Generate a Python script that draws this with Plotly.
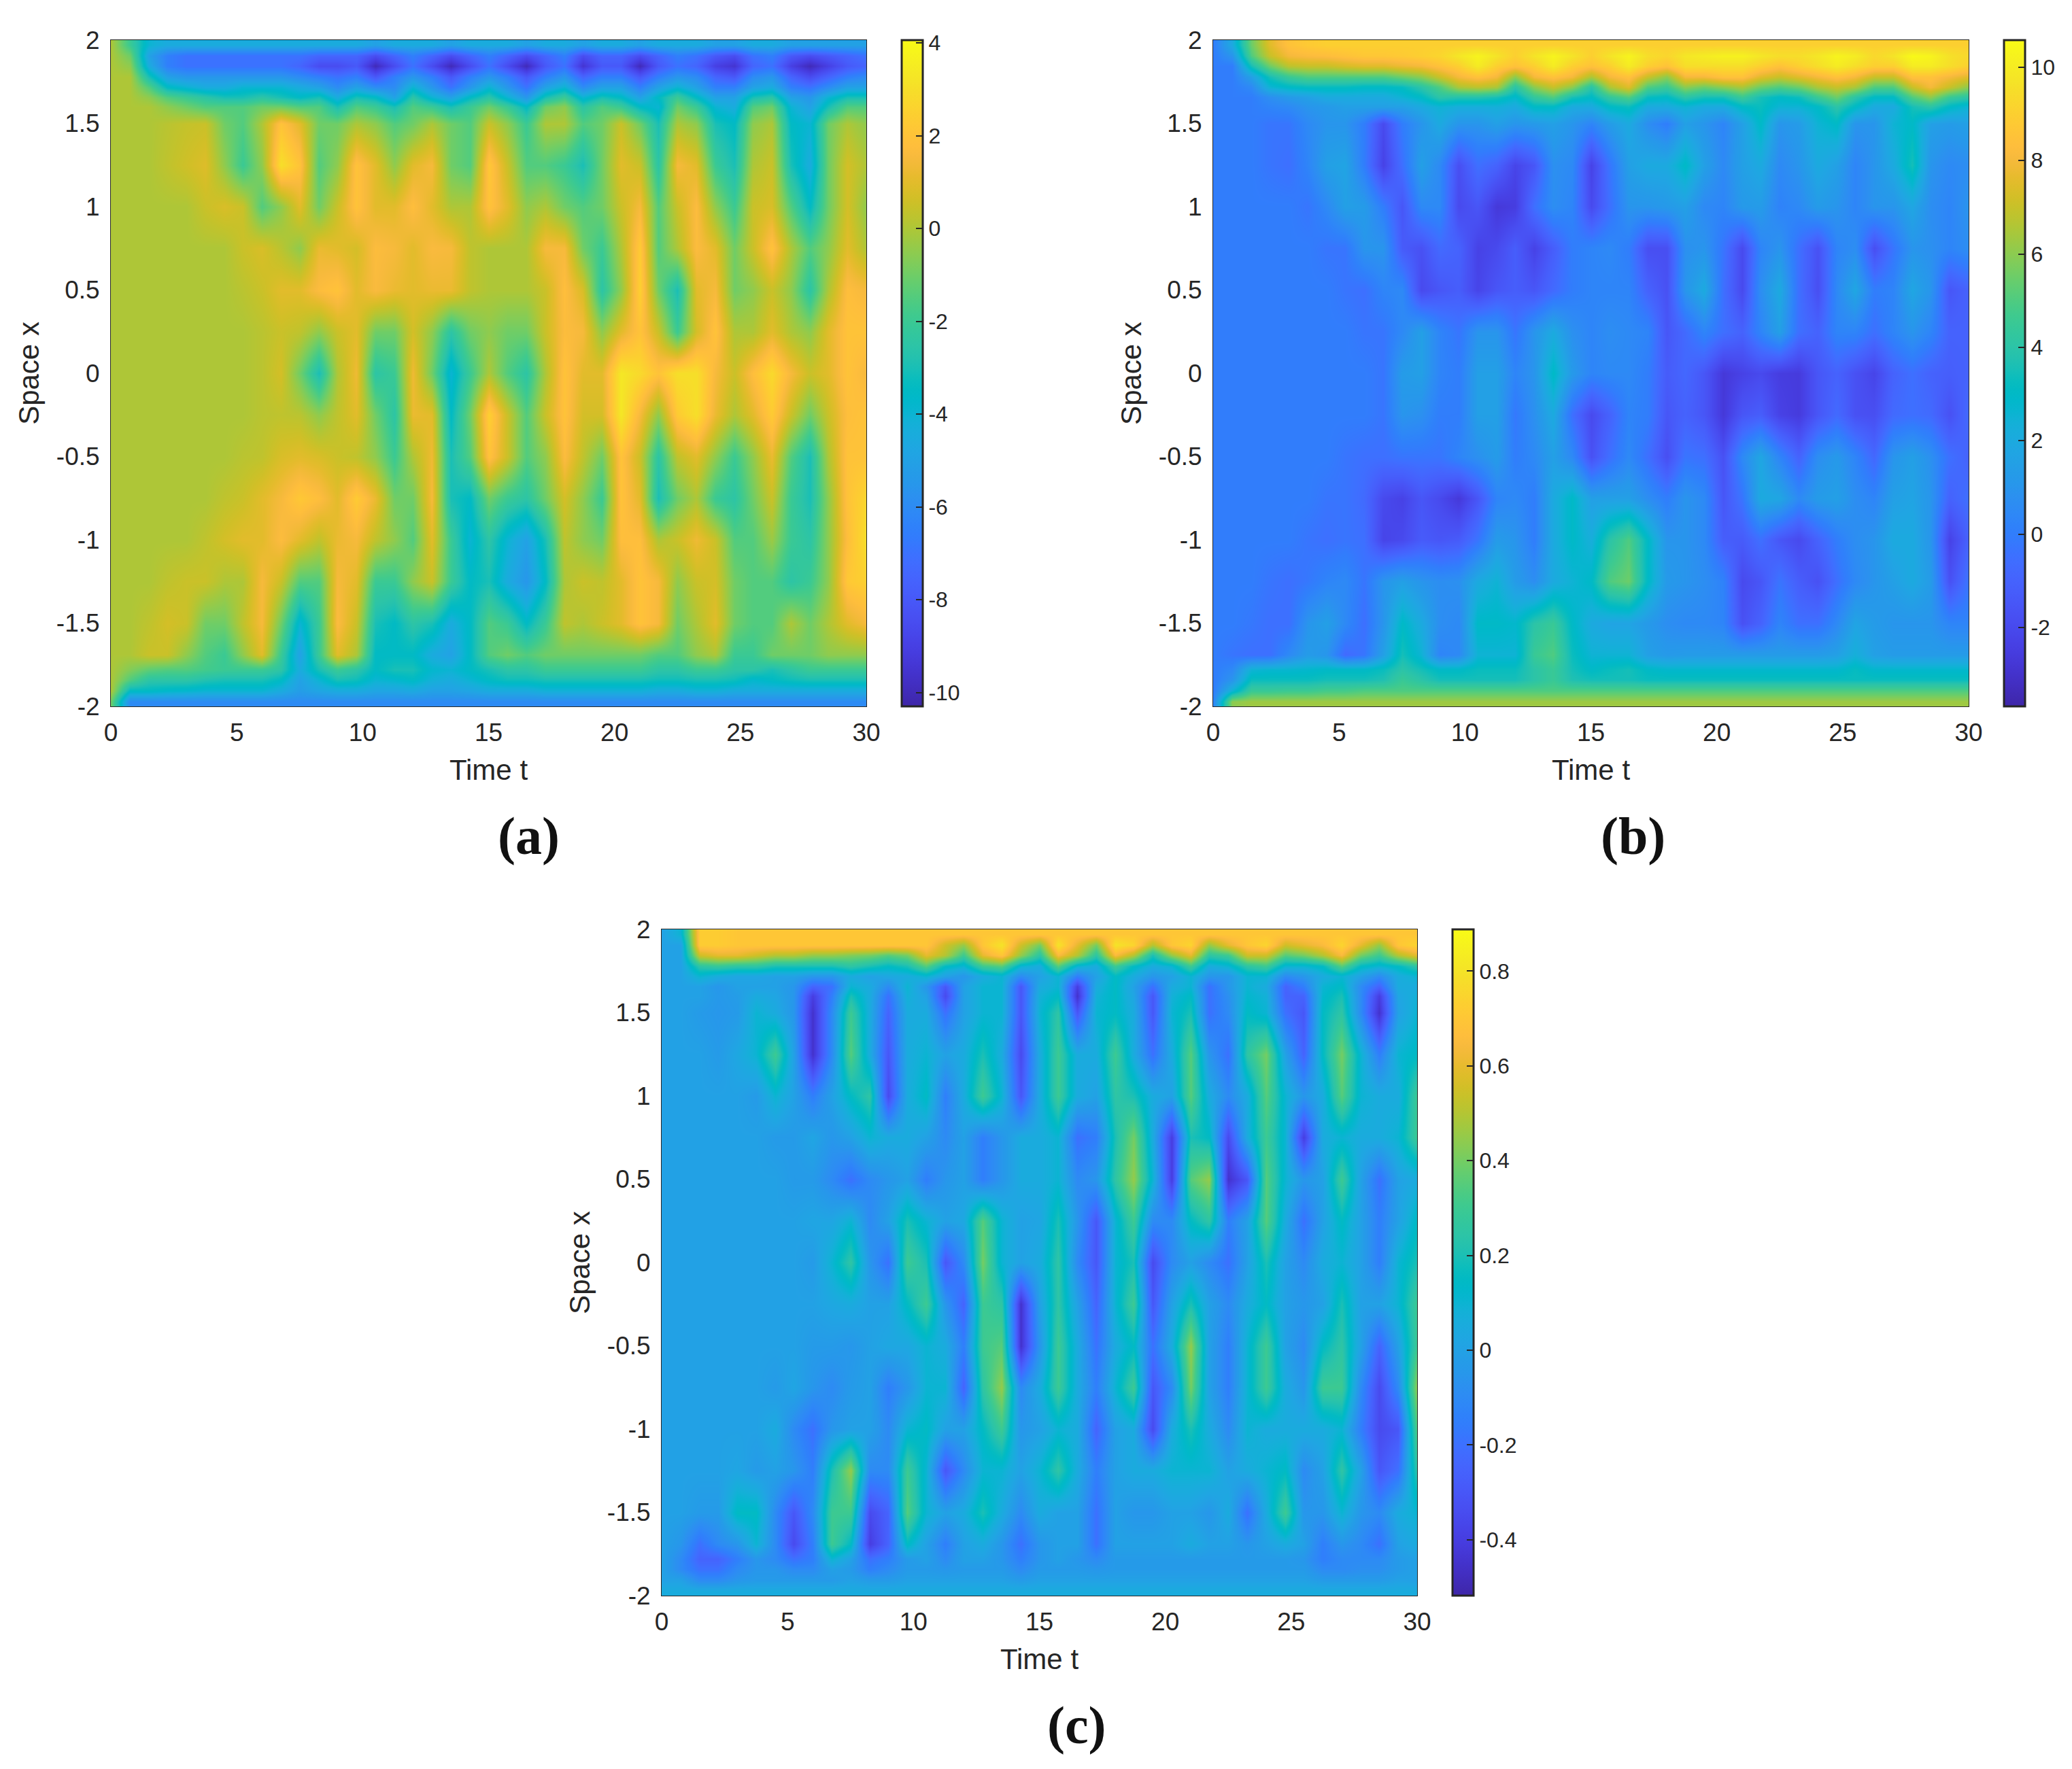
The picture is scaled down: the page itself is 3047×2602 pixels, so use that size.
import plotly.graph_objects as go

# time columns and space rows of the three panels
time_t = [0, .75, 1.5, 2.25, 3, 3.75, 4.5, 5.25, 6, 6.75,
          7.5, 8.25, 9, 9.75, 10.5, 11.25, 12, 12.75, 13.5, 14.25,
          15, 15.75, 16.5, 17.25, 18, 18.75, 19.5, 20.25, 21, 21.75,
          22.5, 23.25, 24, 24.75, 25.5, 26.25, 27, 27.75, 28.5, 29.25, 30]
space_x = [1.97, 1.906, 1.844, 1.78, 1.72, 1.656, 1.6, 1.5, 1.25, 1, .75, .5, .25, 0,
           -.25, -.5, -.75, -1, -1.25, -1.5, -1.69, -1.78, -1.84, -1.906, -1.97]

panel_a = [
    [0, -2, -4, -4.5, -4.5, -4.5, -4.5, -4.5, -4.5, -4.5,  -4.5, -4.5, -4.5, -4.5, -5, -4.5, -4.5, -4.5, -5, -4.5,  -4.5, -4.5, -5, -4.5, -4.5, -5, -4.5, -4.5, -5, -4.5,  -4.5, -4.5, -5, -5, -4.5, -4.5, -5, -5, -5, -5, -5],
    [0, -1, -5, -6.5, -7, -7, -7, -7, -7, -7,  -7, -7.5, -7.5, -7.5, -8.5, -7.5, -6.5, -7.5, -8.5, -7.5,  -6.5, -7.5, -8.5, -7.5, -6.5, -8.5, -7.5, -7.5, -8.5, -7.5,  -6.5, -7, -8, -8.5, -7, -6.5, -8, -8.5, -8, -7.5, -7],
    [0, -.5, -4.5, -6.5, -7, -7, -7, -7, -7, -7,  -7.5, -8.5, -8.5, -8, -10, -8.5, -7, -8.5, -10, -8.5,  -7, -8.5, -10, -8, -7, -9.5, -8, -8, -10, -8,  -7, -7.5, -9, -9.5, -7.5, -7, -9, -10, -9, -8, -7.5],
    [0, 0, -3, -5, -5.5, -5.5, -5.5, -5.5, -5.5, -5.5,  -6, -6.5, -7, -6.5, -8, -6.5, -5.5, -6.5, -8, -6.5,  -5.5, -6.5, -8, -6.5, -5.5, -7.5, -6.5, -6.5, -8, -6.5,  -5.5, -6, -7.5, -8, -6, -5.5, -7.5, -8.5, -7.5, -6.5, -6],
    [0, 0, -1.5, -3.5, -4, -4.5, -4.5, -4, -4, -4,  -4.5, -5, -6, -5, -6, -6, -4, -5.5, -7, -5.5,  -4, -5.5, -7, -5, -4, -6, -5, -5, -6.5, -5,  -4, -5, -6.5, -6.5, -5, -4.5, -6.5, -7, -6, -5, -5],
    [0, 0, -.5, -1.5, -2, -2.5, -3, -3, -2.5, -3,  -3.5, -3, -4.5, -3, -3.5, -5, -2.5, -4, -5, -3.5,  -2.5, -4, -5.5, -3, -2, -4, -3, -3.5, -5, -3.5,  -2, -3.5, -5, -5, -3, -2.5, -5, -5.5, -4, -3, -3],
    [0, 0, 0, -.5, -1, -1.5, -1.5, -1.5, -1, -1,  -1.5, -1.5, -3, -1.5, -2, -3, -1.5, -2, -3, -2,  -1, -2, -3.5, -1, -.5, -2.5, -1.5, -2, -3.5, -4,  -1, -2, -4, -4.5, -1.5, -1, -4, -5, -3, -1.5, -1.5],
    [0, 0, 0, .2, .4, .5, -1, -1.5, 0, 2,  1, -1, -1, 0, -.5, -1.5, -1, 0, -1, -1.5,  .5, -.5, -2, 0, 0, -1.5, -1, .5, -1, -3,  0, -.5, -3, -3.5, -.5, 0, -3.5, -4, -1, 0, -.5],
    [0, 0, 0, .3, .6, .9, -.5, -2, -.5, 3,  2, -1.5, -.5, 2, 1, -.5, 1, 1.5, -1, -1.5,  2.2, .5, -1.5, -1.5, -2, -3, -1, 1, .5, -2.5,  1.5, 1, -2, -3, 0, .5, -3, -4.5, -1, .7, 0],
    [0, 0, 0, 0, 0, .5, .8, .5, -1.5, -.5,  1, -1, .5, 2, 1, 1, 1.8, 1, 0, 0,  2, 1, -.5, 0, -1, -1.5, -1, .5, 1.5, -1.5,  .5, 1.7, -.5, -2, .5, .8, -1.5, -3.5, -1, .7, -.5],
    [0, 0, 0, 0, 0, 0, 0, .5, .8, .2,  -.5, 1.2, 1, .7, 1.7, 1.5, 1, 1.6, 1.5, .3,  0, 0, 0, 1.5, 1.5, -1, -2, 0, 2.3, -1.5,  0, 1.7, 1, -1, .5, 2, 0, -1.5, -.5, 1, 0],
    [0, 0, 0, 0, 0, 0, 0, .2, .5, 1,  1, 1.7, 2, 1, 1.6, 1.2, 1, 1.2, 1.2, .3,  0, 0, 0, .5, 1.8, .8, -2.5, -.5, 2.5, -1,  -3, 1, 1.5, -1, -.5, .5, -.5, -2.5, 0, 1.8, 1.5],
    [0, 0, 0, 0, 0, 0, 0, 0, .2, .5,  .3, -.5, .5, 1, -1, -1, .7, -.5, -2.5, -1,  -.5, -1, -1, .5, 1.7, 1.5, -.5, 1, 2, .5,  -2, .7, 2, 0, 0, 1, 0, -.5, 1, 2, 2],
    [0, 0, 0, 0, 0, 0, 0, 0, .2, .7,  -1, -3, 0, 1.3, -2.5, -2, 1.3, -1, -4, -2,  0, -1.5, -2.5, 0, 2, 1, 1, 3.3, 2.8, 2,  3, 3, 1.5, .5, 1.8, 2.8, 1.5, .5, 1, 2, 1.5],
    [0, 0, 0, 0, 0, 0, 0, 0, .2, .3,  .2, -.5, .3, 1, -1, -2.5, 1.2, 1, -3.5, -1,  2.5, .5, -1.5, .5, 2, .7, .7, 3.3, 1.5, -.5,  2.3, 3, 1.2, 0, 1, 2.3, .5, -1, .5, 1.8, 2],
    [0, 0, 0, 0, 0, 0, 0, .2, .3, .8,  1, .8, .5, .3, -.5, -2, 0, 1.3, -3, -1.5,  2, .5, -1.5, -.5, 1.7, .3, -1, 2, .5, -2.5,  .3, 1, -.5, -2, -.5, 1.2, -1.5, -3, 0, 2, 2],
    [0, 0, 0, 0, 0, 0, .3, .5, 1, 1.5,  2.2, 1.8, 1, 2.3, 1.2, -1, -1, 1.5, -3, -3.5,  -1, -2, -2.5, -1, .7, -.5, -2, 2, 1, -3,  -1, 0, -2, -2.5, -1, .5, -2, -3, -.5, 2, 2.7],
    [0, 0, 0, 0, 0, .3, .7, 1, 1, 1.7,  1, .3, 1.2, 1.5, .3, -.5, -1.5, 1, -2, -4,  -2.5, -4, -5, -3, .3, -.5, -1, 1.8, 1.8, 0,  .5, 1.3, .5, -1.5, -1.5, -.3, -2, -2.5, -.5, 1.8, 3],
    [0, 0, 0, .3, .5, .5, 0, 0, 1.5, .5,  -1.5, -1.5, 1.5, 1, -2, -2, -.5, .5, -2, -3.5,  -3, -4.5, -5.5, -3.5, 0, .5, .3, 1, 2, 1.5,  -.5, .5, .7, -1, -1.5, -1.5, -2.5, -2, -.5, 2.2, 2.5],
    [0, 0, .3, .7, .5, -1, -1, .3, 1.5, -1,  -4, -2, 1.7, .5, -3, -3.5, -2.5, -3, -4.5, -3.5,  -1.5, -2, -3.5, -2, .3, 0, .5, 1, 2, 1.5,  -1, 0, 1, -1, -1.5, -1.5, 0, -1, 0, 1, 1.5],
    [0, 0, .5, .5, -.5, -1.5, -2, -.5, 1, -2,  -5, -2, 1, 0, -3.5, -3.5, -3.5, -4.5, -5, -3.5,  -1.5, -1, -1.5, -1, -1, -1, -1, -1, -1, -1.5,  -1.5, -.5, 0, -2, -2, -1, -1, -1, -.5, -.5, -.5],
    [0, -.7, -1.3, -1.5, -1.5, -1.8, -2, -2, -2, -2.5,  -4.5, -3, -2, -2.5, -3.5, -3, -3, -3.8, -4, -3.5,  -3, -2.5, -2.5, -2, -2, -2, -2, -2, -2, -2.5,  -2.5, -2, -2, -2.5, -2.5, -3, -2.5, -2, -2, -2, -2],
    [0, -1.5, -2.5, -2.5, -2.5, -2.8, -3, -3, -3, -3.5,  -5, -4, -3, -3.2, -4, -3.8, -3.5, -4.2, -4.5, -4,  -3.5, -3.2, -3.2, -3, -3, -3, -3, -3, -3, -3.2,  -3.2, -3, -3, -3.2, -3.8, -3.5, -3.2, -3, -3, -3, -3],
    [0, -3.5, -3.5, -3.7, -3.8, -4, -4, -4, -4, -4.5,  -5.2, -4.8, -4.5, -4.5, -4.8, -4.8, -4.6, -5, -5, -4.8,  -4.5, -4.5, -4.5, -4.2, -4.2, -4.2, -4.2, -4.2, -4.2, -4.5,  -4.5, -4.2, -4.2, -4.5, -4.5, -4.5, -4.5, -4.5, -4.5, -4.5, -4.5],
    [-1, -6, -6, -6, -6, -6, -6, -6, -6, -6,  -6, -6, -6, -6, -6, -6, -6, -6, -6, -6,  -6, -6, -6, -6, -6, -6, -6, -6, -6, -6,  -6, -6, -6, -6, -6, -6, -6, -6, -6, -6, -6],
]

panel_b = [
    [0, 2, 5.5, 7.5, 8.5, 8.8, 9, 9, 9, 9,  9, 9, 9, 9, 9, 9, 9, 9, 9, 9,  9, 9, 9, 9, 9, 9, 9, 9, 9, 9,  9, 9, 9, 9, 9, 9, 9, 9, 9, 9, 9],
    [0, 1, 5, 7, 8, 8.2, 8.3, 8.5, 8.7, 8.7,  8.8, 9, 9.2, 9.8, 10.3, 9.7, 9, 9.7, 10.3, 9.7,  9, 9.7, 10.3, 9.5, 9.2, 9.8, 10, 10.2, 10.2, 9.8,  9.5, 9.5, 9.8, 10.3, 10, 9.3, 9.7, 10.5, 10.3, 9.6, 9.3],
    [0, 0, 3.5, 5.5, 6.8, 7, 7, 7.3, 7.5, 7.5,  7.8, 8, 8.5, 9, 10, 9, 8.5, 9, 10, 9,  8.5, 9, 10, 9, 8.5, 9.5, 9.5, 9.5, 9.5, 9,  8.5, 9, 9.5, 10, 9.5, 9, 9, 10, 10, 9.5, 9],
    [0, 0, 1.5, 3.5, 4.5, 5, 5, 5, 5, 5,  5.5, 6, 7, 8, 8.5, 8, 6, 8, 8.5, 8,  6.5, 8, 8.5, 7, 6, 8, 8, 8.5, 8.5, 7.5,  7, 7.5, 8, 8.5, 8, 7, 7, 8.5, 8.5, 8, 7.5],
    [0, 0, .5, 2.5, 3, 3.2, 3.2, 3.2, 3, 3,  3.2, 4, 5, 6.5, 6.8, 6.5, 4, 6, 7, 6,  4, 6.5, 7.5, 5, 4.5, 6, 5.5, 6, 6.5, 5.5,  5, 5.5, 6.5, 7, 6.5, 5, 5, 7, 8, 7, 6],
    [0, 0, 0, .7, 1.2, 1.5, 2, 2, 2, 2,  2.5, 3, 4, 3.8, 3.8, 3.5, 2.8, 4.3, 5, 3.5,  3, 4.3, 5, 3.2, 3, 4, 3.5, 3.5, 4.5, 3.5,  3, 3.3, 4.5, 5.5, 4, 3, 3, 5, 6, 4.5, 4],
    [0, 0, 0, .3, .5, 1, 1.2, 1.5, 1.5, 1.5,  1.5, 2, 2.5, 2.2, 2.2, 2.3, 2, 3, 3, 2,  2, 3, 3.3, 2, 2, 2.5, 2, 2, 3, 3.3,  2.5, 2.5, 3, 4, 3, 2, 2, 3.5, 4, 3, 2.5],
    [0, 0, 0, -.3, -.3, .5, 1, 1, 0, -2,  0, 1, 2, 1, 1, 1.5, 1, 1.2, 1.5, 1,  .3, 1.3, 2, .7, 0, 1.5, 1, .3, 1.5, 3,  1, 1.3, 2.5, 3, 1, 1, 2.5, 3, 1.5, 1.3, 1.5],
    [0, 0, 0, -.3, -.5, .3, 1.5, 1.7, 0, -2.3,  -.5, 1.5, .5, -1.8, -.5, -1, -2.2, -1.5, .8, .5,  -2.3, -.3, 1.5, 2, 2, 3, 1.5, .5, 1.5, 2,  .5, 1, 2, 1.5, .3, 1, 2, 3.5, 1, .5, .7],
    [0, 0, 0, 0, 0, -.3, .5, 1.5, 1.3, 0,  -1.5, .5, .5, -2, -1.5, -2.7, -2.5, -.5, .7, .3,  -2, -.5, 1, 1, 1.2, 1.5, .5, .3, 1.2, 1.3,  .2, .5, 1.3, 1, .3, 1, 1, 1.8, .7, .3, 1],
    [0, 0, 0, 0, 0, 0, -.3, -.3, 1, 1,  -1.3, -1.7, -.7, -1, -2.3, -2, -1.2, -2.3, -1.2, 0,  .3, .5, 0, -1.8, -1.8, .8, 1, -.3, -2, .3,  1, -.5, -1.7, .3, .7, -1.8, -.3, 1, .8, .3, .7],
    [0, 0, 0, 0, 0, 0, 0, -.3, -.5, .3,  .5, -2, -1.5, -1.2, -2.2, -1.5, -1.2, -1.5, -.7, 0,  .3, .3, .3, -1, -1.7, 1, 2, -.5, -2, .7,  2, -.5, -1.8, .5, 1.8, 0, .3, 1.8, 1, -1.5, -1],
    [0, 0, 0, 0, 0, 0, 0, 0, -.3, -.3,  .5, 1.5, .3, -.3, 1, 1, -.3, 1, 2, .8,  .3, .7, .5, .3, -1.5, -.7, .3, -.5, -1, .3,  1.5, -.5, -1, .3, .3, -.5, .3, 1, .3, -1, -1],
    [0, 0, 0, 0, 0, 0, 0, 0, 0, -.3,  1.3, 1.5, .3, 0, 1.5, 1.5, .3, 1, 3, 1.2,  .3, .5, .5, 0, -1.3, -.8, -1.5, -2.7, -2.3, -2,  -2.5, -2.6, -1.5, -1, -1.7, -2.2, -1, -.5, -1, -1.2, -1],
    [0, 0, 0, 0, 0, 0, 0, 0, 0, -.3,  1, .8, 0, 0, 1.5, 1.5, -.2, .8, 2, -.5,  -2, -1, .3, 0, -1.5, -1, -1.5, -2.7, -1.5, -1.2,  -2.3, -2.6, -1.5, -.7, -1.7, -1.8, -.7, -.5, -.7, -1.7, -.7],
    [0, 0, 0, 0, 0, 0, 0, -.3, -.5, -.5,  -.3, -.3, -.3, .3, .8, 1.3, 0, .5, 1.5, .5,  -1.7, -.5, .5, -.5, -1.8, -.3, -.5, -1.7, .5, 1.8,  .3, -1, .7, 1.2, .3, -.8, 1, 1.5, .8, -.5, -1],
    [0, 0, 0, 0, 0, 0, -.3, -.3, -.7, -2,  -2.3, -1.5, -2, -2.7, -1.5, .3, .5, 0, 2, 3,  1.5, 1.5, 1.5, .7, 0, 1, .5, -1.5, -.3, 2,  1.8, .5, 1.3, 1.5, .7, .3, 1.5, 1.7, 1, -1, -.5],
    [0, 0, 0, 0, 0, -.3, -.5, -.3, -.5, -2.2,  -2, -1.3, -1.5, -1.3, -.3, 1.3, 1, 0, 2, 3,  2.2, 4, 5, 3, 1, 1, .5, -1.2, -1.3, -.5,  -1.5, -2, -1, 0, .7, 1, 2, 2, 1, -2.3, -1],
    [0, 0, 0, -.3, -.5, -.2, .3, .5, -.3, 1,  1.5, 1, .7, .8, 2, 2.5, 1.3, .7, 2, 2.5,  3, 5, 5.5, 3, 1.2, 1, .7, .2, -2, -1.5,  -.3, -1.2, -1.7, -.5, .5, 1, 1.5, 2, 1.3, -1.7, -.3],
    [0, 0, -.2, -.5, -.5, 1, 1.5, .5, -.5, 1,  3, 2, .7, .5, 3, 3, 2.8, 4, 4.5, 3,  2, 1.7, 1.7, 1.2, .7, .5, .5, .3, -1.7, -1,  .3, -.5, -.5, .5, 1.7, 1.3, 1, 1, 1, .3, .3],
    [0, -.3, -.5, -.5, .5, 1.3, 1, -.7, -.3, 1.5,  3.5, 2.5, .3, .5, 2.5, 2.5, 2.5, 4.5, 5, 3.3,  2.5, 2.5, 2.5, 1.5, 1.2, 1.3, 1.3, 1.3, 1.3, 1.3,  1.3, 1.3, 1.3, 1.5, 2.3, 1.5, 1.3, 1.3, 1.3, 1.3, 1.3],
    [0, .5, 2.5, 2.7, 2.7, 2.8, 3, 3, 3, 3.3,  4, 3.5, 3, 3, 3.3, 3.3, 3.3, 4, 4.5, 3.5,  3, 3.3, 3.5, 3, 2.8, 2.8, 2.8, 2.8, 2.8, 2.8,  2.8, 2.8, 2.8, 2.8, 3.2, 2.8, 2.8, 2.8, 2.8, 2.8, 2.8],
    [0, 1, 3.3, 3.3, 3.3, 3.3, 3.5, 3.5, 3.5, 3.7,  4.5, 4, 3.5, 3.5, 3.5, 3.5, 3.5, 4, 4.5, 3.7,  3.5, 3.5, 3.5, 3.3, 3.3, 3.3, 3.3, 3.3, 3.3, 3.3,  3.3, 3.3, 3.3, 3.3, 3.3, 3.3, 3.3, 3.3, 3.3, 3.3, 3.3],
    [0, 2.5, 4.5, 4.5, 4.6, 4.6, 4.8, 4.8, 5, 5,  5, 5, 5, 5, 5, 5, 5, 5, 5, 5,  5, 5, 5, 5, 5, 5, 5, 5, 5, 5,  5, 5, 5, 5, 5, 5, 5, 5, 5, 5, 5],
    [.3, 6, 6.3, 6.3, 6.3, 6.3, 6.3, 6.3, 6.3, 6.3,  6.3, 6.3, 6.3, 6.3, 6.3, 6.3, 6.3, 6.3, 6.3, 6.3,  6.3, 6.3, 6.3, 6.3, 6.3, 6.3, 6.3, 6.3, 6.3, 6.3,  6.3, 6.3, 6.3, 6.3, 6.3, 6.3, 6.3, 6.3, 6.3, 6.3, 6.3],
]

panel_c = [
    [0, .1, .72, .72, .7, .7, .7, .7, .7, .7,  .7, .7, .7, .7, .7, .7, .7, .7, .7, .7,  .7, .7, .7, .7, .7, .7, .7, .7, .7, .7,  .7, .7, .7, .7, .7, .7, .7, .7, .7, .7, .7],
    [0, 0, .72, .72, .7, .7, .7, .7, .7, .7,  .7, .7, .7, .7, .7, .55, .45, .7, .8, .55,  .4, .8, .6, .4, .8, .75, .5, .7, .75, .45,  .6, .7, .75, .55, .6, .65, .75, .6, .45, .7, .75],
    [0, 0, .55, .6, .6, .55, .5, .5, .45, .45,  .42, .4, .35, .4, .6, .5, .3, .6, .7, .45,  .25, .65, .5, .25, .65, .5, .2, .45, .6, .25,  .3, .55, .55, .35, .4, .5, .65, .4, .3, .5, .6],
    [0, 0, .25, .28, .25, .25, .2, .2, .2, .2,  .25, .2, .15, .2, .35, .15, .1, .3, .35, .1,  .05, .35, .1, .05, .3, .15, .05, .1, .3, .05,  .1, .25, .3, .1, .1, .15, .35, .15, .1, .15, .25],
    [0, 0, .1, .05, .02, .02, 0, 0, -.05, -.05,  .05, 0, .03, .05, .1, 0, -.05, .05, .1, -.1,  0, .1, -.15, 0, .15, .05, -.05, 0, .1, -.05,  -.05, .1, .1, -.1, -.05, .05, .1, 0, -.1, .05, .1],
    [0, 0, 0, -.05, 0, 0, 0, -.05, -.25, -.2,  .1, .05, -.1, .1, -.05, -.3, 0, .1, .1, -.3,  .05, .1, -.4, .05, .15, 0, -.2, .05, .1, -.2,  -.05, .1, .05, -.25, -.15, .1, .15, -.1, -.25, .05, .05],
    [0, 0, 0, -.04, -.02, .05, .02, -.05, -.4, -.15,  .2, .05, -.2, .08, 0, -.35, 0, .1, .1, -.3,  .08, .15, -.45, .08, .15, .02, -.3, .08, .15, -.2,  -.08, .12, .08, -.25, -.25, .12, .2, -.1, -.4, .02, .08],
    [0, 0, -.03, -.05, -.03, .1, .05, -.05, -.45, -.1,  .3, .05, -.25, .05, .05, -.2, 0, .1, .1, -.3,  .1, .25, -.3, .1, .15, .05, -.3, .1, .2, -.2,  -.1, .15, .1, -.2, -.3, .15, .25, -.1, -.45, 0, .1],
    [0, 0, 0, -.03, .03, .1, .3, 0, -.45, -.1,  .35, .05, -.3, .05, .1, 0, .05, .2, .05, -.35,  .05, .3, .05, .05, .3, .05, -.2, .05, .35, -.05,  -.2, .25, .4, 0, -.25, .15, .4, .1, -.15, .1, .15],
    [0, 0, 0, 0, 0, -.03, .1, 0, -.15, 0,  .15, .25, -.35, .05, .15, -.15, .05, .3, .1, -.3,  .05, .3, .05, 0, .25, .2, .05, 0, .35, .05,  -.1, .05, .35, .1, -.05, .05, .35, .1, .05, .05, .3],
    [0, 0, 0, 0, 0, 0, -.03, -.03, .02, -.05,  0, .1, .05, .05, 0, -.1, 0, -.15, -.05, .05,  .05, .1, -.2, -.15, .2, .4, .05, -.4, .2, .15,  -.35, .05, .3, .1, -.4, .05, .1, .05, .05, .1, .3],
    [0, 0, 0, 0, 0, 0, 0, -.03, -.03, -.1,  -.2, -.1, -.05, 0, -.15, -.05, 0, -.15, -.05, .05,  .05, .1, -.1, -.05, .25, .45, .1, -.4, .35, .45,  -.45, -.3, .35, .1, -.05, 0, .3, 0, -.2, 0, .05],
    [0, 0, 0, 0, 0, 0, 0, 0, .02, .02,  .1, -.1, 0, .2, .1, 0, .03, .35, .1, 0,  .02, .2, -.05, -.3, .1, .3, -.1, -.1, .15, .25,  -.15, 0, .35, .05, -.2, 0, .15, 0, -.15, 0, .15],
    [0, 0, 0, 0, 0, 0, 0, 0, -.03, .1,  .25, -.05, -.2, .3, .2, -.3, -.1, .4, .1, 0,  .05, .25, -.1, -.3, .1, .2, -.35, -.1, 0, -.1,  -.2, 0, .2, 0, -.1, .05, .1, 0, -.15, .1, .2],
    [0, 0, 0, 0, 0, 0, 0, 0, 0, .03,  .05, 0, 0, .15, .3, -.05, -.25, .3, .25, -.45,  0, .25, 0, -.25, .1, .3, -.3, 0, .2, 0,  -.1, .05, .15, 0, -.05, 0, .2, 0, 0, .1, .3],
    [0, 0, 0, 0, 0, 0, 0, 0, -.03, -.03,  -.05, 0, .03, .03, .1, .05, -.15, .3, .35, -.45,  -.05, .3, .05, -.2, .05, .15, -.2, .05, .45, 0,  -.15, .1, .3, 0, -.1, .15, .25, 0, -.25, 0, .3],
    [0, 0, 0, 0, 0, 0, -.03, .02, -.05, -.1,  -.03, 0, -.15, -.05, .1, .1, -.25, .25, .45, -.1,  .05, .3, .05, -.15, .1, .3, -.3, -.1, .4, 0,  -.15, .1, .3, .05, -.05, .3, .3, -.1, -.35, -.1, .45],
    [0, 0, 0, 0, 0, 0, .05, -.1, -.2, -.05,  0, 0, -.1, .1, .15, 0, 0, .15, .3, -.05,  0, .1, .05, -.25, 0, .05, -.35, .05, .2, .05,  -.1, .1, .05, .05, .05, .05, .1, -.15, -.35, -.3, .35],
    [0, 0, 0, 0, .02, -.03, 0, -.05, -.15, .2,  .45, -.1, -.1, .3, .1, -.3, -.1, .1, .1, 0,  .1, .25, .05, -.15, 0, .05, .05, .1, .1, .1,  0, .05, .1, .15, -.1, 0, .25, 0, -.3, -.2, .25],
    [0, 0, -.03, -.03, .15, .15, -.1, -.3, -.1, .3,  .3, -.35, -.25, .35, .1, 0, .05, .2, .05, -.1,  .05, 0, 0, -.2, 0, -.05, -.05, 0, 0, -.05,  .05, -.2, .05, .3, -.05, -.05, .1, -.05, -.1, .05, .1],
    [0, -.05, -.2, -.1, -.05, .1, -.1, -.35, -.15, .3,  .15, -.4, -.25, .15, 0, -.15, 0, .05, -.05, -.2,  -.05, 0, 0, -.2, 0, 0, 0, 0, .05, 0,  0, -.05, 0, .05, 0, -.15, -.05, -.1, -.2, 0, .05],
    [0, -.1, -.25, -.25, -.15, -.05, -.1, -.2, -.15, .1,  0, -.2, -.15, -.03, 0, -.1, 0, 0, -.05, -.15,  -.05, 0, -.05, -.1, -.03, -.03, -.03, -.03, -.03, -.03,  -.03, -.03, -.03, -.03, -.05, -.15, -.1, -.1, -.1, -.03, 0],
    [0, -.1, -.2, -.2, -.1, -.05, -.05, -.1, -.1, 0,  -.03, -.15, -.1, -.03, -.03, -.05, -.03, -.03, -.03, -.1,  -.03, -.03, -.03, -.05, -.03, -.03, -.03, -.03, -.03, -.03,  -.03, -.03, -.03, -.03, -.03, -.1, -.1, -.08, -.08, -.03, 0],
    [0, 0, -.1, -.1, -.05, -.03, -.03, -.03, -.03, -.03,  0, -.03, -.03, 0, 0, 0, 0, 0, 0, -.03,  0, 0, 0, 0, 0, 0, 0, 0, 0, 0,  0, 0, 0, 0, 0, -.03, -.03, -.03, -.03, 0, 0],
    [.05, .05, .05, .05, .05, .05, .05, .05, .05, .05,  .05, .05, .05, .05, .05, .05, .05, .05, .05, .05,  .05, .05, .05, .05, .05, .05, .05, .05, .05, .05,  .05, .05, .05, .05, .05, .05, .05, .05, .05, .05, .05],
]

limits_a = (-10.3, 4.06)
limits_b = (-3.69, 10.58)
limits_c = (-0.518, 0.888)

ticks_a = [-10, -8, -6, -4, -2, 0, 2, 4]
ticks_b = [-2, 0, 2, 4, 6, 8, 10]
ticks_c = [-0.4, -0.2, 0, 0.2, 0.4, 0.6, 0.8]

time_ticks = [0, 5, 10, 15, 20, 25, 30]
space_ticks = [-2, -1.5, -1, -0.5, 0, 0.5, 1, 1.5, 2]

# matlab parula
parula = [
    (0.2422, 0.1504, 0.6603), (0.2504, 0.1650, 0.7076), (0.2578, 0.1818, 0.7511), (0.2647, 0.1978, 0.7952),
    (0.2706, 0.2147, 0.8364), (0.2751, 0.2342, 0.8710), (0.2783, 0.2559, 0.8991), (0.2803, 0.2782, 0.9221),
    (0.2813, 0.3006, 0.9414), (0.2810, 0.3228, 0.9579), (0.2795, 0.3447, 0.9717), (0.2760, 0.3667, 0.9829),
    (0.2699, 0.3892, 0.9906), (0.2602, 0.4123, 0.9952), (0.2440, 0.4358, 0.9988), (0.2206, 0.4603, 0.9973),
    (0.1963, 0.4847, 0.9892), (0.1834, 0.5074, 0.9798), (0.1786, 0.5289, 0.9682), (0.1764, 0.5499, 0.9520),
    (0.1687, 0.5703, 0.9359), (0.1540, 0.5902, 0.9218), (0.1460, 0.6091, 0.9079), (0.1380, 0.6276, 0.8973),
    (0.1248, 0.6459, 0.8883), (0.1113, 0.6635, 0.8763), (0.0952, 0.6798, 0.8598), (0.0689, 0.6948, 0.8394),
    (0.0297, 0.7082, 0.8163), (0.0036, 0.7203, 0.7917), (0.0067, 0.7312, 0.7660), (0.0433, 0.7411, 0.7394),
    (0.0964, 0.7500, 0.7120), (0.1408, 0.7584, 0.6842), (0.1717, 0.7670, 0.6554), (0.1938, 0.7758, 0.6251),
    (0.2161, 0.7843, 0.5923), (0.2470, 0.7918, 0.5567), (0.2906, 0.7973, 0.5188), (0.3406, 0.8008, 0.4789),
    (0.3909, 0.8029, 0.4354), (0.4456, 0.8024, 0.3909), (0.5044, 0.7993, 0.3480), (0.5616, 0.7942, 0.3045),
    (0.6174, 0.7876, 0.2612), (0.6720, 0.7793, 0.2227), (0.7242, 0.7698, 0.1910), (0.7738, 0.7598, 0.1646),
    (0.8203, 0.7498, 0.1535), (0.8634, 0.7406, 0.1596), (0.9035, 0.7330, 0.1774), (0.9393, 0.7288, 0.2100),
    (0.9728, 0.7298, 0.2394), (0.9956, 0.7434, 0.2371), (0.9970, 0.7659, 0.2199), (0.9952, 0.7893, 0.2028),
    (0.9892, 0.8136, 0.1885), (0.9786, 0.8386, 0.1766), (0.9676, 0.8639, 0.1643), (0.9610, 0.8890, 0.1537),
    (0.9597, 0.9135, 0.1423), (0.9628, 0.9373, 0.1265), (0.9691, 0.9606, 0.1064), (0.9769, 0.9839, 0.0805),
]
colorscale = [
    [i / 63, f"rgb({r * 255:.0f},{g * 255:.0f},{b * 255:.0f})"]
    for i, (r, g, b) in enumerate(parula)
]

W, H = 3047, 2602
DARK = "#262626"
SANS = "Liberation Sans"


def add_panel(fig, z, limits, ticks, n, left, top):
    right, bottom = left + 1111, top + 980
    suffix = "" if n == 1 else str(n)
    fig.add_trace(
        go.Heatmap(
            x=time_t,
            y=space_x[::-1],
            z=z[::-1],
            zmin=limits[0],
            zmax=limits[1],
            zsmooth="best",
            colorscale=colorscale,
            xaxis=f"x{suffix}",
            yaxis=f"y{suffix}",
            colorbar=dict(
                x=(left + 1163) / W,
                xanchor="left",
                xpad=0,
                ypad=0,
                y=1 - (top + bottom) / 2 / H,
                yanchor="middle",
                len=980 / H,
                lenmode="fraction",
                thickness=31,
                thicknessmode="pixels",
                outlinecolor=DARK,
                outlinewidth=3,
                ticks="inside",
                ticklen=11,
                tickwidth=2,
                tickcolor=DARK,
                tickvals=ticks,
                ticktext=[f"{t:g}" for t in ticks],
                tickfont=dict(family=SANS, size=32, color=DARK),
            ),
        )
    )
    axis = dict(
        showgrid=False,
        zeroline=False,
        showline=True,
        mirror=True,
        linecolor=DARK,
        linewidth=1,
        ticks="",
        automargin=False,
        tickfont=dict(family=SANS, size=37, color=DARK),
    )
    fig.update_layout(
        {
            f"xaxis{suffix}": dict(
                axis,
                domain=[left / W, right / W],
                range=[0, 30],
                anchor=f"y{suffix}",
                tickvals=time_ticks,
                ticktext=[str(t) for t in time_ticks],
                ticklabelstandoff=6,
                title=dict(text="Time t", font=dict(family=SANS, size=42, color=DARK), standoff=20),
            ),
            f"yaxis{suffix}": dict(
                axis,
                domain=[1 - bottom / H, 1 - top / H],
                range=[-2, 2],
                anchor=f"x{suffix}",
                tickvals=space_ticks,
                ticktext=[f"{t:g}" for t in space_ticks],
                ticklabelstandoff=8,
                title=dict(text="Space x", font=dict(family=SANS, size=42, color=DARK), standoff=12),
            ),
        }
    )


fig = go.Figure()
add_panel(fig, panel_a, limits_a, ticks_a, 1, 163, 59)
add_panel(fig, panel_b, limits_b, ticks_b, 2, 1784, 59)
add_panel(fig, panel_c, limits_c, ticks_c, 3, 973, 1367)

# panel captions
for label, cx, cy in [("(a)", 777, 1230), ("(b)", 2401, 1230), ("(c)", 1583, 2537)]:
    fig.add_annotation(
        text=f"<b>{label}</b>",
        x=cx / W,
        y=1 - cy / H,
        xref="paper",
        yref="paper",
        xanchor="center",
        yanchor="middle",
        showarrow=False,
        font=dict(family="Liberation Serif", size=78, color="#111111"),
    )

fig.update_layout(
    width=W,
    height=H,
    margin=dict(l=0, r=0, t=0, b=0, autoexpand=False),
    paper_bgcolor="white",
    plot_bgcolor="white",
    showlegend=False,
)

fig.write_html(
    "out.html",
    config={"displayModeBar": False},
    post_script="document.body.style.margin='0';",
)
